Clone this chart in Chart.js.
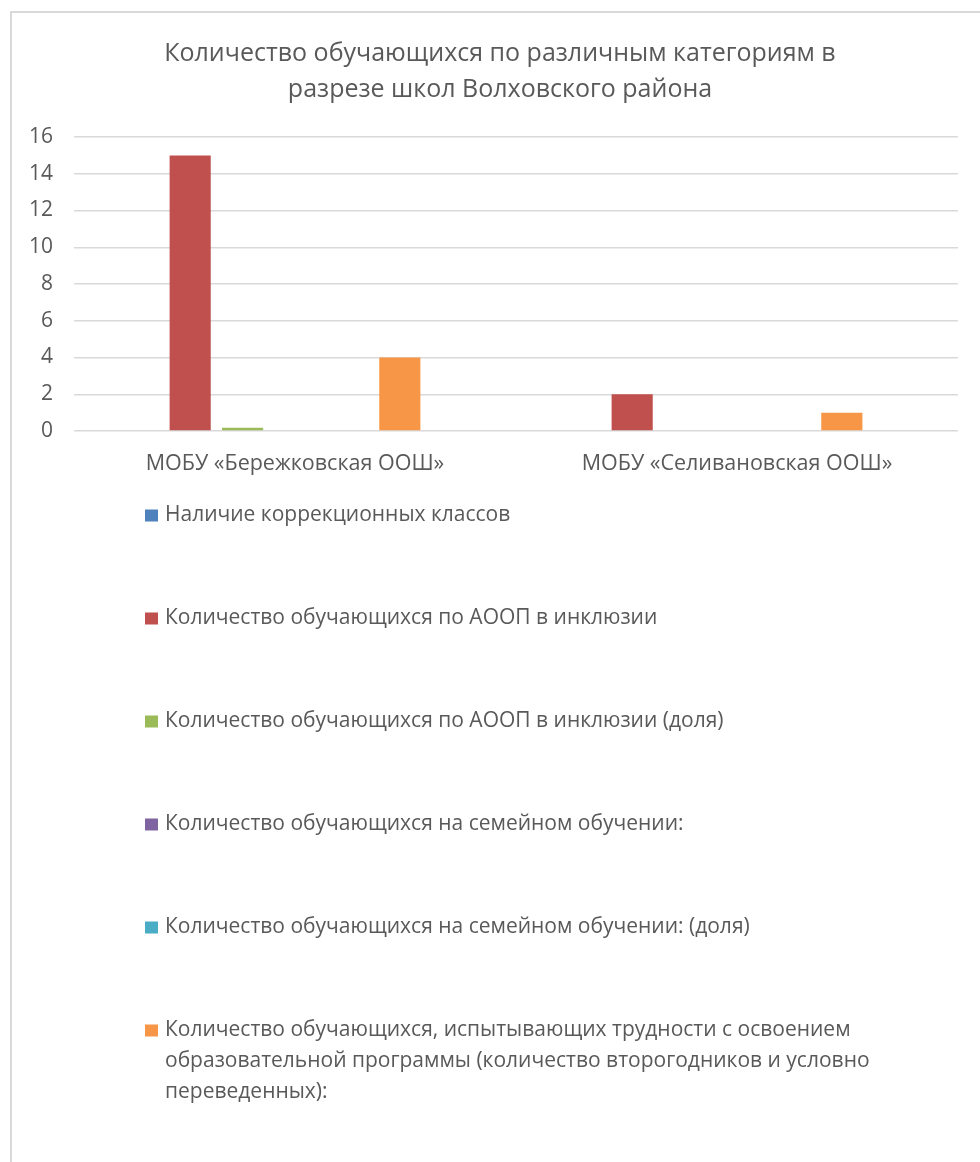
<!DOCTYPE html>
<html>
<head>
<meta charset="utf-8">
<script src="https://cdn.jsdelivr.net/npm/chart.js@4.4.0/dist/chart.umd.min.js"></script>
<style>
  html, body { margin: 0; padding: 0; background: #fff; overflow: hidden; }
  #frame { position: absolute; left: 10px; top: 11px; width: 1000px; height: 1200px; border: 2px solid #d9d9d9; box-sizing: border-box; }
  #chart { position: absolute; left: 0; top: 0; }
</style>
</head>
<body>
<div id="frame"></div>
<canvas id="chart" width="980" height="1162"></canvas>
<script>
/* Categories (schools) */
let schools = ['МОБУ «Бережковская ООШ»', 'МОБУ «Селивановская ООШ»']

/* Series values, one array per category of students */
let correctionClasses = [0, 0]
let aoopInclusion = [15, 2]
let aoopInclusionShare = [0.18, 0]
let familyEducation = [0, 0]
let familyEducationShare = [0, 0]
let learningDifficulties = [4, 1]
// 7th series - its legend entry is cut off below the picture, no visible bars
let croppedSeries = [0, 0]

/* Legend names, split in lines the way the legend shows them */
let seriesNames = [
    ['Наличие коррекционных классов'],
    ['Количество обучающихся по АООП в инклюзии'],
    ['Количество обучающихся по АООП в инклюзии (доля)'],
    ['Количество обучающихся на семейном обучении:'],
    ['Количество обучающихся на семейном обучении: (доля)'],
    ['Количество обучающихся, испытывающих трудности с освоением',
     'образовательной программы (количество второгодников и условно',
     'переведенных):'],
    []
]

/* Y axis ticks */
let yMin = 0
let yMax = 16
let yStep = 2

let seriesColors = ['#4F81BD', '#C0504D', '#9BBB59', '#8064A2', '#4BACC6', '#F79646', '#2C4D75']
let seriesValues = [correctionClasses, aoopInclusion, aoopInclusionShare, familyEducation,
                    familyEducationShare, learningDifficulties, croppedSeries]

let fontFamily = '"Open Sans", "Noto Sans", sans-serif'
let textColor = '#595959'

// Draws the legend as a column below the axis, like the Excel original
const columnLegend = {
    id: 'columnLegend',
    afterDraw(chart) {
        let ctx = chart.ctx
        let area = chart.chartArea
        ctx.save()
        ctx.font = '21px ' + fontFamily
        ctx.textBaseline = 'middle'
        ctx.textAlign = 'left'
        chart.data.datasets.forEach(function(ds, i) {
            let lines = seriesNames[i]
            if (lines.length == 0) return
            let y = area.bottom + 84.5 + i * 103
            ctx.fillStyle = ds.backgroundColor
            ctx.fillRect(area.left + 71, y - 6, 13, 12)
            ctx.fillStyle = textColor
            lines.forEach(function(line, k) {
                ctx.fillText(line, area.left + 91, y + k * 31)
            })
        })
        ctx.restore()
    }
}

let datasets = seriesValues.map(function(values, i) {
    return {
        label: seriesNames[i].join(' '),
        data: values,
        backgroundColor: seriesColors[i],
        borderWidth: 0
    }
})

let ctx = document.querySelector('#chart').getContext('2d')

let chart = new Chart(ctx, {
    type: 'bar',
    data: {
        labels: schools,
        datasets: datasets
    },
    options: {
        responsive: false,
        animation: false,
        events: [],
        categoryPercentage: 0.83,
        barPercentage: 0.785,
        layout: {
            padding: { left: 42, right: 22, top: 0, bottom: 0 }
        },
        plugins: {
            legend: { display: false },
            tooltip: { enabled: false },
            title: {
                display: true,
                text: ['Количество обучающихся по различным категориям в', 'разрезе школ Волховского района'],
                color: textColor,
                font: { family: fontFamily, size: 25, weight: 'normal', lineHeight: '36px' },
                padding: { top: 36, bottom: 29 }
            }
        },
        scales: {
            x: {
                grid: { display: false, drawTicks: false },
                border: { display: false },
                ticks: {
                    color: textColor,
                    padding: 20,
                    maxRotation: 0,
                    font: { family: fontFamily, size: 21.5 }
                },
                afterFit(scale) { scale.height = 731 }
            },
            y: {
                min: yMin,
                max: yMax,
                grid: { color: '#D9D9D9', lineWidth: 1.5, drawTicks: false },
                border: { display: false },
                ticks: {
                    stepSize: yStep,
                    color: textColor,
                    // mirrored + far alignment keeps labels right-aligned left of the axis without clipping
                    mirror: true,
                    crossAlign: 'far',
                    padding: -45,
                    font: { family: fontFamily, size: 21 }
                },
                afterFit(scale) { scale.width = 32 }
            }
        }
    },
    plugins: [columnLegend]
})
</script>
</body>
</html>
